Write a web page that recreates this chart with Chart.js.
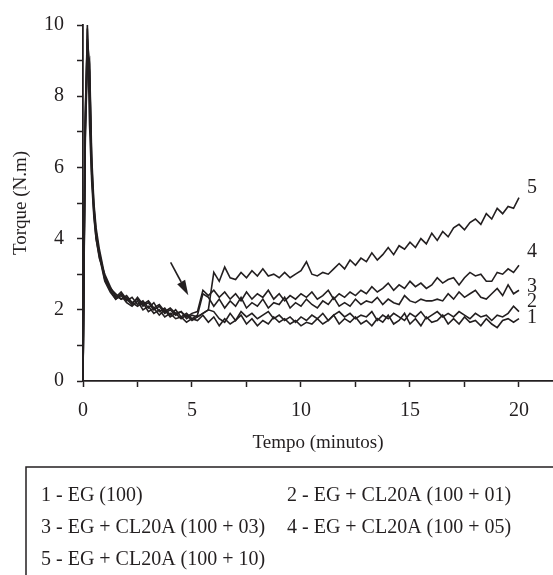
<!DOCTYPE html>
<html>
<head>
<meta charset="utf-8">
<script src="https://cdn.jsdelivr.net/npm/chart.js@4/dist/chart.umd.min.js"></script>
<style>
  html, body { margin: 0; padding: 0; background: #fff; }
  #wrap { width: 553px; height: 575px; }
</style>
</head>
<body>
<div id="wrap"><canvas id="torqueChart" width="553" height="575"></canvas></div>
<script>
// Torque vs tempo - EG com CL20A

const times = [
    0, 0.1, 0.2, 0.3, 0.4, 0.5, 0.6, 0.75,
    1, 1.25, 1.5, 1.75, 2, 2.25, 2.5, 2.75, 3, 3.25, 3.5, 3.75,
    4, 4.25, 4.5, 4.75, 5, 5.25, 5.5, 5.75, 6, 6.25, 6.5, 6.75,
    7, 7.25, 7.5, 7.75, 8, 8.25, 8.5, 8.75, 9, 9.25, 9.5, 9.75,
    10, 10.25, 10.5, 10.75, 11, 11.25, 11.5, 11.75, 12, 12.25, 12.5, 12.75,
    13, 13.25, 13.5, 13.75, 14, 14.25, 14.5, 14.75, 15, 15.25, 15.5, 15.75,
    16, 16.25, 16.5, 16.75, 17, 17.25, 17.5, 17.75, 18, 18.25, 18.5, 18.75,
    19, 19.25, 19.5, 19.75, 20
];

const eg100 = [
    0, 6.5, 10, 7.2, 5.6, 4.6, 4.0, 3.5,
    2.8, 2.5, 2.3, 2.4, 2.2, 2.1, 2.25, 2.0, 2.1, 1.9, 2.0, 1.8,
    1.9, 1.75, 1.8, 1.65, 1.75, 1.7, 1.85, 1.65, 1.8, 1.55, 1.75, 1.6,
    1.7, 1.85, 1.6, 1.75, 1.55, 1.7, 1.6, 1.8, 1.65, 1.75, 1.6, 1.7,
    1.55, 1.65, 1.6, 1.75, 1.6, 1.7, 1.85, 1.6, 1.75, 1.65, 1.8, 1.6,
    1.7, 1.55, 1.75, 1.65, 1.85, 1.6, 1.7, 1.9, 1.6, 1.75, 1.55, 1.8,
    1.65, 1.7, 1.85, 1.6, 1.75, 1.6, 1.8, 1.65, 1.7, 1.55, 1.75, 1.6,
    1.5, 1.7, 1.75, 1.65, 1.75
];

const cl01 = [
    0, 7.5, 9.6, 8.9, 5.9, 4.8, 4.1, 3.6,
    2.9, 2.6, 2.4, 2.3, 2.35, 2.2, 2.1, 2.2, 1.95, 2.05, 1.85, 2.0,
    1.8, 1.9, 1.75, 1.85, 1.7, 1.8, 1.9, 2.0, 1.95, 1.75, 1.65, 1.9,
    1.7, 1.95, 1.8, 1.9, 1.75, 1.85, 1.95, 1.75, 1.85, 1.7, 1.8, 1.65,
    1.8, 1.7, 1.85, 1.75, 1.9, 1.7, 1.85, 1.95, 1.8, 1.9, 1.75, 1.85,
    1.8, 1.95, 1.7, 1.85, 1.75, 1.9, 1.8, 1.7, 1.9, 1.8, 1.95, 1.75,
    1.85, 1.95, 1.8, 1.9, 1.8, 1.95, 1.85, 1.75, 1.9, 1.8, 1.85, 1.7,
    1.85, 1.8, 1.9, 2.1, 1.95
];

const cl03 = [
    0, 7.0, 9.2, 8.7, 6.1, 4.9, 4.2, 3.55,
    2.85, 2.55, 2.3, 2.45, 2.25, 2.35, 2.15, 2.25, 2.05, 2.2, 1.95, 2.05,
    1.85, 2.0, 1.8, 1.9, 1.75, 1.85, 2.45, 2.35, 2.1, 2.3, 2.05, 2.25,
    2.1, 2.35, 2.05, 2.2, 2.1, 2.3, 2.05, 2.2, 2.15, 2.35, 2.05, 2.2,
    2.1, 2.3, 2.15, 2.05, 2.25, 2.15, 2.35, 2.1, 2.2, 2.1, 2.3, 2.15,
    2.25, 2.2, 2.35, 2.15, 2.3, 2.2, 2.15, 2.4, 2.25, 2.2, 2.3, 2.25,
    2.25, 2.3, 2.25, 2.45, 2.3, 2.5, 2.35, 2.45, 2.55, 2.35, 2.3, 2.45,
    2.6, 2.4, 2.7, 2.45, 2.55
];

const cl05 = [
    0, 6.8, 8.8, 9.0, 6.3, 5.0, 4.3, 3.7,
    2.95, 2.6, 2.45, 2.3, 2.4, 2.2, 2.3, 2.1, 2.2, 2.0, 2.1, 1.9,
    2.0, 1.85, 1.95, 1.8, 1.9, 1.95, 2.55, 2.4, 2.55, 2.35, 2.5, 2.3,
    2.45, 2.25, 2.5, 2.3, 2.45, 2.35, 2.55, 2.3, 2.45, 2.25, 2.4, 2.3,
    2.45, 2.35, 2.5, 2.3, 2.4, 2.55, 2.3, 2.45, 2.35, 2.5, 2.4, 2.55,
    2.45, 2.65, 2.5, 2.6, 2.75, 2.55, 2.7, 2.6, 2.8, 2.65, 2.75, 2.6,
    2.7, 2.9, 2.75, 2.85, 2.9, 2.7, 2.9, 3.05, 2.95, 3.0, 2.8, 2.8,
    3.05, 3.0, 3.15, 3.05, 3.25
];

const cl10 = [
    0, 7.2, 9.9, 8.3, 5.8, 4.7, 4.0, 3.45,
    3.0, 2.65, 2.35, 2.5, 2.3, 2.15, 2.35, 2.15, 2.25, 2.05, 2.15, 1.95,
    2.05, 1.9, 1.95, 1.75, 1.85, 1.8, 1.9, 2.0, 3.05, 2.8, 3.2, 2.9,
    2.85, 3.05, 2.9, 3.1, 2.95, 3.15, 2.95, 3.0, 2.9, 3.05, 2.9, 3.0,
    3.1, 3.35, 3.0, 2.95, 3.05, 3.0, 3.15, 3.3, 3.15, 3.4, 3.25, 3.45,
    3.35, 3.6, 3.4, 3.55, 3.75, 3.55, 3.8, 3.7, 3.9, 3.75, 4.0, 3.85,
    4.15, 3.95, 4.2, 4.05, 4.3, 4.4, 4.25, 4.45, 4.55, 4.4, 4.7, 4.55,
    4.85, 4.7, 4.9, 4.85, 5.15
];

const seriesNames = [
    "1 - EG (100)",
    "2 - EG + CL20A (100 + 01)",
    "3 - EG + CL20A (100 + 03)",
    "4 - EG + CL20A (100 + 05)",
    "5 - EG + CL20A (100 + 10)"
];
const xTickValues = [0, 2.5, 5, 7.5, 10, 12.5, 15, 17.5, 20];
const xTickLabels = ["0", "", "5", "", "10", "", "15", "", "20"];
const curveTags = ["1", "2", "3", "4", "5"];
const curveTagY = [1.77, 2.22, 2.66, 3.63, 5.43];   // torque level of each end label
const curveTagX = 20.6;
const arrowFrom = [4.02, 3.33];
const arrowTo = [4.83, 2.41];

const INK = "#231f20";
const SERIF = "'Liberation Serif', 'Times New Roman', serif";

const allSeries = [eg100, cl01, cl03, cl05, cl10];

const datasets = allSeries.map((vals, i) => ({
    label: seriesNames[i],
    data: times.map((t, k) => ({ x: t, y: vals[k] })),
    borderColor: INK,
    borderWidth: 1.6,
    pointRadius: 0,
    tension: 0,
    fill: false
}));

// numbers 1..5 at the right end of the curves + the arrow
const curveMarks = {
    id: "curveMarks",
    afterDatasetsDraw(chart) {
        const { ctx, scales: { x, y } } = chart;
        ctx.save();
        ctx.fillStyle = INK;
        ctx.font = "20px " + SERIF;
        ctx.textAlign = "center";
        ctx.textBaseline = "middle";
        curveTags.forEach((tag, i) => {
            ctx.fillText(tag, x.getPixelForValue(curveTagX), y.getPixelForValue(curveTagY[i]));
        });

        const x1 = x.getPixelForValue(arrowFrom[0]), y1 = y.getPixelForValue(arrowFrom[1]);
        const x2 = x.getPixelForValue(arrowTo[0]), y2 = y.getPixelForValue(arrowTo[1]);
        const ang = Math.atan2(y2 - y1, x2 - x1);
        const headLen = 15, headW = 4.5;
        ctx.strokeStyle = INK;
        ctx.lineWidth = 1.6;
        ctx.beginPath();
        ctx.moveTo(x1, y1);
        ctx.lineTo(x2 - Math.cos(ang) * headLen, y2 - Math.sin(ang) * headLen);
        ctx.stroke();
        ctx.beginPath();
        ctx.moveTo(x2, y2);
        ctx.lineTo(x2 - Math.cos(ang) * headLen - Math.sin(ang) * headW, y2 - Math.sin(ang) * headLen + Math.cos(ang) * headW);
        ctx.lineTo(x2 - Math.cos(ang) * headLen + Math.sin(ang) * headW, y2 - Math.sin(ang) * headLen - Math.cos(ang) * headW);
        ctx.closePath();
        ctx.fill();
        ctx.restore();
    }
};

// framed legend under the axis, two columns, text only
const boxLegend = {
    id: "boxLegend",
    afterDraw(chart) {
        const ctx = chart.ctx;
        ctx.save();
        ctx.strokeStyle = INK;
        ctx.lineWidth = 1.5;
        ctx.strokeRect(26, 467, 600, 200);
        ctx.fillStyle = INK;
        ctx.font = "20px " + SERIF;
        ctx.textAlign = "left";
        ctx.textBaseline = "middle";
        const colX = [41, 287];
        const rowY = [496, 528, 560];
        chart.data.datasets.forEach((ds, i) => {
            ctx.fillText(ds.label, colX[i % 2], rowY[Math.floor(i / 2)]);
        });
        ctx.restore();
    }
};

new Chart(document.getElementById("torqueChart"), {
    type: "line",
    data: { datasets },
    plugins: [curveMarks, boxLegend],
    options: {
        responsive: false,
        animation: false,
        layout: { padding: { top: 20, right: 0, bottom: 120, left: 0 } },
        plugins: {
            legend: { display: false },
            tooltip: { enabled: false }
        },
        scales: {
            x: {
                type: "linear",
                min: 0,
                max: 21.56,
                afterBuildTicks: (s) => { s.ticks = xTickValues.map(v => ({ value: v })); },
                afterFit: (s) => { s.height = 74; },
                ticks: {
                    padding: 12,
                    color: INK,
                    font: { family: SERIF, size: 20 },
                    maxRotation: 0,
                    autoSkip: false,
                    callback: (v, i) => xTickLabels[i]
                },
                grid: {
                    drawOnChartArea: false,
                    tickLength: 6,
                    tickWidth: 1.5,
                    tickColor: INK
                },
                border: { color: INK, width: 1.8 },
                title: {
                    display: true,
                    text: "Tempo (minutos)",
                    color: INK,
                    font: { family: SERIF, size: 19 },
                    padding: { top: 0, bottom: 1 }
                }
            },
            y: {
                min: 0,
                max: 10,
                afterFit: (s) => { s.width = 83; },
                ticks: {
                    stepSize: 1,
                    padding: 13,
                    color: INK,
                    font: { family: SERIF, size: 20 },
                    callback: (v) => (v % 2 === 0 ? v : "")
                },
                grid: {
                    drawOnChartArea: false,
                    tickLength: 6,
                    tickWidth: 1.5,
                    tickColor: INK
                },
                border: { color: INK, width: 1.8 },
                title: {
                    display: true,
                    text: "Torque (N.m)",
                    color: INK,
                    font: { family: SERIF, size: 19 },
                    padding: { top: 10, bottom: 0 }
                }
            }
        }
    }
});
</script>
</body>
</html>
